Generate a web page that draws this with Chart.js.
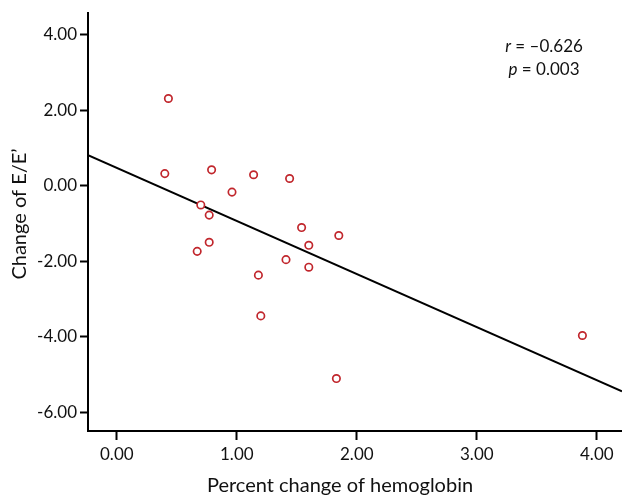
<!DOCTYPE html>
<html lang="en">
<head>
    <meta charset="UTF-8">
    <title>Change of E/E' vs hemoglobin</title>
    <script src="https://cdn.jsdelivr.net/npm/chart.js"></script>
    <style>
        body {
            margin: 0;
            background: #fff;
        }
        #wrap {
            width: 622px;
            height: 499px;
        }
    </style>
</head>
<body>
    <div id="wrap">
        <canvas id="scatter" width="622" height="499"></canvas>
    </div>

    <script>
        // percent change of hemoglobin (x) and change of E/E' (y)
        const hbChange = [0.43, 0.40, 0.79, 1.14, 1.44, 0.96, 0.70, 0.77, 1.54, 1.85,
                          0.77, 1.60, 0.67, 1.41, 1.60, 1.18, 1.20, 1.83, 3.88];
        const eeChange = [2.31, 0.32, 0.42, 0.29, 0.19, -0.17, -0.51, -0.78, -1.11, -1.32,
                          -1.50, -1.58, -1.74, -1.96, -2.16, -2.37, -3.45, -5.11, -3.97];

        // regression line endpoints (at the axis limits)
        const fitX = [-0.24, 4.21];
        const fitY = [0.81, -5.45];

        const xTicks = [0, 1, 2, 3, 4];
        const yTicks = [-6, -4, -2, 0, 2, 4];

        const xTitle = 'Percent change of hemoglobin';
        const yTitle = 'Change of E/E\u2019';
        const statLines = [['r', ' = \u20130.626'], ['p', ' = 0.003']];

        const FONT = 'Lato, sans-serif';
        const RED = '#c1272d';
        const INK = '#111';

        // axis titles and the r / p note
        const textPlugin = {
            id: 'texts',
            afterDraw(chart) {
                const ctx = chart.ctx;
                ctx.save();
                ctx.fillStyle = INK;
                ctx.textBaseline = 'middle';
                ctx.textAlign = 'center';
                ctx.font = '20px ' + FONT;
                ctx.fillText(xTitle, 340, 486);

                ctx.translate(20, 214);
                ctx.rotate(-Math.PI / 2);
                ctx.fillText(yTitle, 0, 0);
                ctx.setTransform(1, 0, 0, 1, 0, 0);

                const cx = 544;
                ctx.textAlign = 'left';
                statLines.forEach((ln, i) => {
                    const y = 47 + i * 23;
                    ctx.font = 'italic 17px ' + FONT;
                    const w1 = ctx.measureText(ln[0]).width;
                    ctx.font = '17px ' + FONT;
                    const w2 = ctx.measureText(ln[1]).width;
                    const x = cx - (w1 + w2) / 2;
                    ctx.font = 'italic 17px ' + FONT;
                    ctx.fillText(ln[0], x, y);
                    ctx.font = '17px ' + FONT;
                    ctx.fillText(ln[1], x + w1, y);
                });
                ctx.restore();
            }
        };

        const points = hbChange.map((v, i) => ({ x: v, y: eeChange[i] }));
        const fitPoints = fitX.map((v, i) => ({ x: v, y: fitY[i] }));

        new Chart(document.getElementById('scatter'), {
            type: 'scatter',
            data: {
                datasets: [
                    {
                        data: points,
                        borderColor: RED,
                        backgroundColor: '#fff',
                        borderWidth: 1.7,
                        pointRadius: 3.7,
                        order: 1
                    },
                    {
                        type: 'line',
                        data: fitPoints,
                        borderColor: '#000',
                        borderWidth: 2,
                        pointRadius: 0,
                        fill: false,
                        order: 2
                    }
                ]
            },
            options: {
                responsive: false,
                animation: false,
                layout: { autoPadding: false, padding: { top: 13, right: 0, left: 0, bottom: 0 } },
                plugins: {
                    legend: { display: false },
                    tooltip: { enabled: false }
                },
                scales: {
                    x: {
                        type: 'linear',
                        min: -0.24,
                        max: 4.21,
                        afterFit(scale) { scale.height = 68; },
                        afterBuildTicks(scale) { scale.ticks = xTicks.map(v => ({ value: v })); },
                        border: { color: '#000', width: 2 },
                        grid: { drawOnChartArea: false, drawTicks: true, tickLength: 9, tickColor: '#000', tickWidth: 2 },
                        ticks: {
                            color: INK,
                            font: { family: FONT, size: 17 },
                            padding: 4,
                            callback: v => v.toFixed(2)
                        }
                    },
                    y: {
                        min: -6.5,
                        max: 4.57,
                        afterFit(scale) { scale.width = 88; },
                        afterBuildTicks(scale) { scale.ticks = yTicks.map(v => ({ value: v })); },
                        border: { color: '#000', width: 2 },
                        grid: { drawOnChartArea: false, drawTicks: true, tickLength: 8, tickColor: '#000', tickWidth: 2 },
                        ticks: {
                            color: INK,
                            font: { family: FONT, size: 17 },
                            padding: 3,
                            callback: v => v.toFixed(2)
                        }
                    }
                }
            },
            plugins: [textPlugin]
        });
    </script>
</body>
</html>
